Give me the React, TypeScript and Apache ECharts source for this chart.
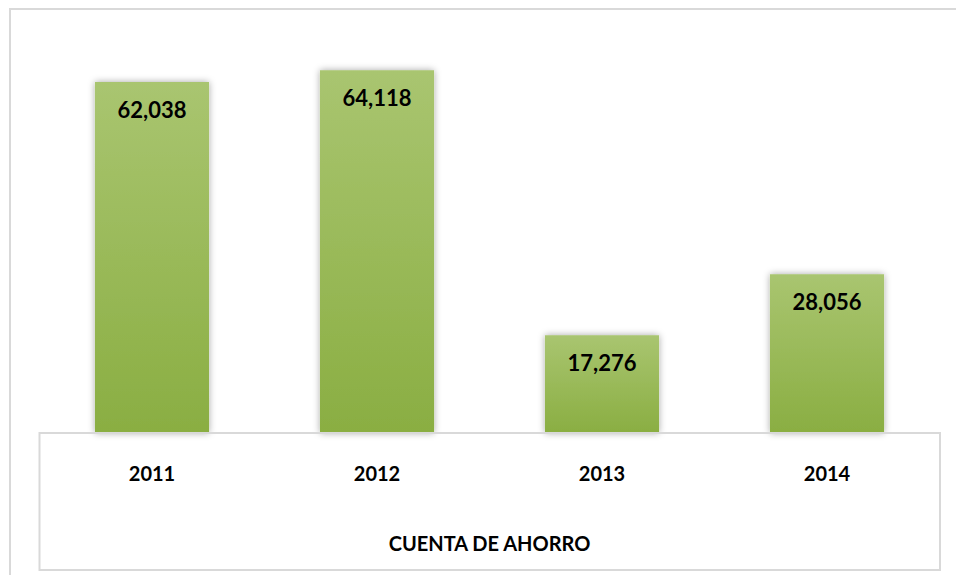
import React, { useEffect, useRef } from "react";
import * as echarts from "echarts";

const categories = ["2011", "2012", "2013", "2014"];
const values = [62038, 64118, 17276, 28056];
const axisTitle = "CUENTA DE AHORRO";

export default function App() {
  const ref = useRef<HTMLDivElement>(null);
  useEffect(() => {
    if (!ref.current) return;
    const chart = echarts.init(ref.current, null, { renderer: "svg" });
    const font = "Lato, 'Open Sans', sans-serif";
    chart.setOption({
      animation: false,
      backgroundColor: "#ffffff",
      grid: { left: 39.5, right: 16.5, top: 37, bottom: 142 },
      xAxis: {
        type: "category",
        data: categories,
        axisLine: { show: false },
        axisTick: { show: false },
        axisLabel: {
          margin: 30,
          color: "#000",
          fontSize: 20,
          fontWeight: "bold",
          fontFamily: font,
        },
        name: axisTitle,
        nameLocation: "middle",
        nameGap: 100,
        nameTextStyle: {
          color: "#000",
          fontSize: 20,
          fontWeight: "bold",
          fontFamily: font,
          verticalAlign: "top",
        },
      },
      yAxis: {
        type: "value",
        min: 0,
        max: 70000,
        show: false,
        splitLine: { show: false },
      },
      series: [
        {
          type: "bar",
          data: values,
          barWidth: "50.7%",
          itemStyle: {
            color: new echarts.graphic.LinearGradient(0, 0, 0, 1, [
              { offset: 0, color: "#A9C570" },
              { offset: 1, color: "#8AAE42" },
            ]),
            shadowColor: "rgba(0,0,0,0.35)",
            shadowBlur: 7,
            shadowOffsetX: 0,
            shadowOffsetY: 0,
          },
          label: {
            show: true,
            position: "insideTop",
            distance: 16,
            color: "#000",
            fontSize: 22,
            fontWeight: "bold",
            fontFamily: font,
            formatter: (p: any) => Number(p.value).toLocaleString("en-US"),
          },
        },
      ],
      graphic: [
        {
          type: "polyline",
          shape: { points: [[1000, 9], [10, 9], [10, 620]] },
          style: { fill: "none", stroke: "#D9D9D9", lineWidth: 2 },
          silent: true,
          z: 10,
        },
        {
          type: "rect",
          shape: { x: 39.5, y: 433, width: 900.5, height: 137 },
          style: { fill: "none", stroke: "#D9D9D9", lineWidth: 2 },
          silent: true,
          z: 10,
        },
      ],
    });
    return () => chart.dispose();
  }, []);
  return (
    <div
      ref={ref}
      style={{ position: "fixed", left: 0, top: 0, width: 956, height: 575 }}
    />
  );
}
